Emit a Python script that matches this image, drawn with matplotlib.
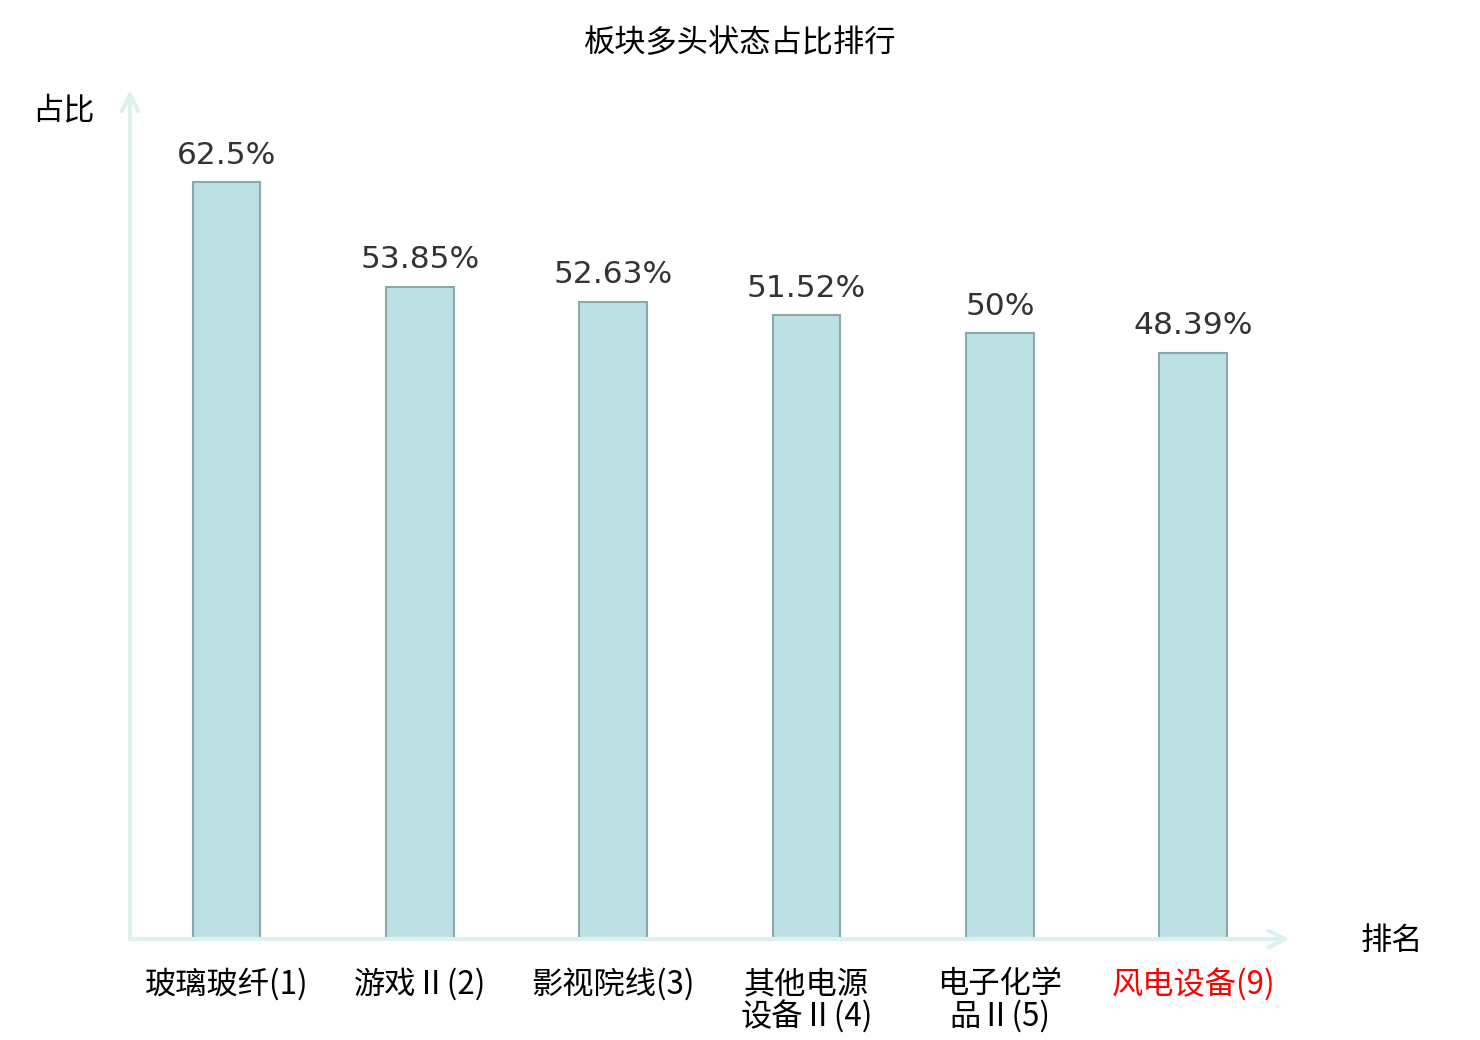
import matplotlib
matplotlib.use("Agg")
import matplotlib.pyplot as plt

plt.rcParams['font.family'] = ['Noto Sans CJK SC', 'DejaVu Sans']

# data
categories = ["玻璃玻纤(1)", "游戏Ⅱ(2)", "影视院线(3)", "其他电源\n设备Ⅱ(4)", "电子化学\n品Ⅱ(5)", "风电设备(9)"]
values = [62.5, 53.85, 52.63, 51.52, 50, 48.39]
value_labels = ["62.5%", "53.85%", "52.63%", "51.52%", "50%", "48.39%"]
highlight = [False, False, False, False, False, True]

fs = 22.5

fig = plt.figure(figsize=(14.8, 10.4), dpi=100)
ax = fig.add_axes([0.0878, 0.0971, 0.7838, 0.8164])

x = list(range(len(categories)))
bars = ax.bar(x, values, width=0.35, color='#bce0e3', edgecolor='#8aa9aa', linewidth=1.5, zorder=3)

for xi, v, lab in zip(x, values, value_labels):
    ax.annotate(lab, (xi, v), xytext=(0, 9), textcoords='offset points',
                ha='center', va='bottom', fontsize=fs, color='#333333',
                family='DejaVu Sans')

ax.set_xlim(-0.5, 5.5)
ax.set_ylim(0, 70.1)
ax.set_yticks([])
ax.set_xticks(x)
ax.set_xticklabels(categories, fontsize=fs, linespacing=1.0, va='top')
ax.tick_params(axis='x', length=0, pad=21)
for lbl, hl in zip(ax.get_xticklabels(), highlight):
    lbl.set_color('red' if hl else 'black')

for s in ax.spines.values():
    s.set_visible(False)

axis_color = '#ddf2ef'
ax.annotate('', xy=(0, 1), xytext=(0, 0), xycoords='axes fraction',
            arrowprops=dict(arrowstyle='->', color=axis_color, lw=3, mutation_scale=30,
                            shrinkA=0, shrinkB=0), annotation_clip=False)
ax.annotate('', xy=(1, 0), xytext=(0, 0), xycoords='axes fraction',
            arrowprops=dict(arrowstyle='->', color=axis_color, lw=3, mutation_scale=30,
                            shrinkA=0, shrinkB=0), annotation_clip=False)

fig.text(63 / 1480, 1 - 110 / 1040, "占比", ha='center', va='center', fontsize=fs)
fig.text(1392 / 1480, 1 - 941 / 1040, "排名", ha='center', va='center', fontsize=fs)
fig.text(0.5, 1 - 43 / 1040, "板块多头状态占比排行", ha='center', va='center', fontsize=fs)

fig.savefig("out.png", dpi=100)
